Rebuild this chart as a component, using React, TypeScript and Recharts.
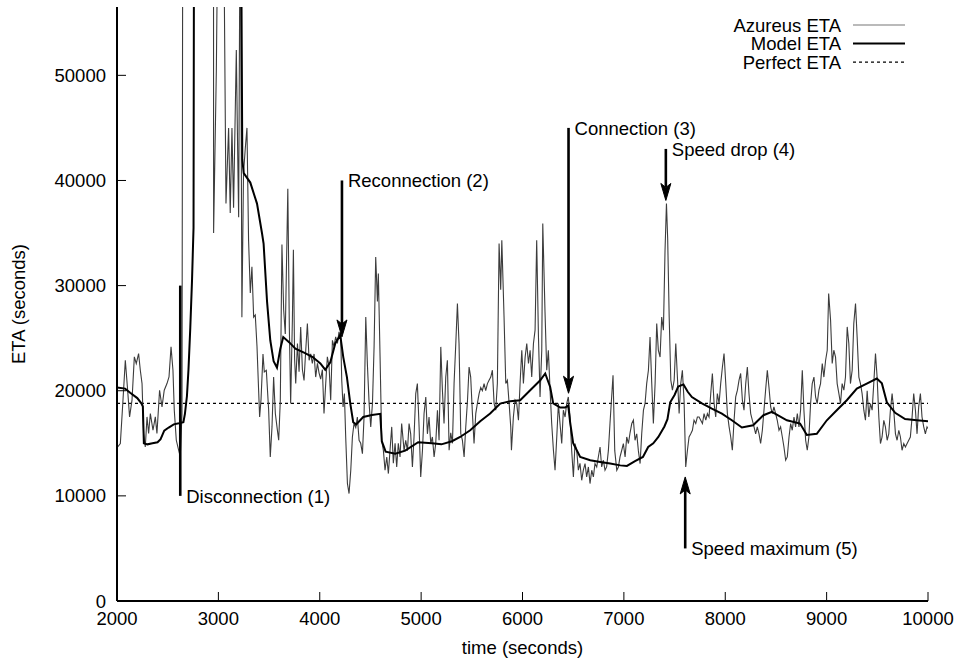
import React from 'react';
import { LineChart, Line, XAxis, YAxis, ReferenceLine, Legend } from 'recharts';

const X_TICKS = [2000, 3000, 4000, 5000, 6000, 7000, 8000, 9000, 10000];
const Y_TICKS = [0, 10000, 20000, 30000, 40000, 50000];
const X_DOMAIN: [number, number] = [2000, 10000];
const Y_DOMAIN: [number, number] = [0, 56500];

const SERIES_NAMES = ['Azureus ETA', 'Model ETA', 'Perfect ETA'];
const X_LABEL = 'time (seconds)';
const Y_LABEL = 'ETA (seconds)';

const PERFECT_ETA = 18800;

// [time, eta] pairs; values above the axis top are clipped spikes
const AZUREUS: [number, number][] = [
  [2000, 15000], [2006, 14650], [2033, 14980], [2059, 19100], [2082, 22900], [2105, 20050], [2124, 17510],
  [2148, 19100], [2171, 23220], [2190, 22590], [2213, 23540], [2230, 21950], [2247, 20680], [2262, 15930],
  [2279, 14650], [2296, 17510], [2312, 15930], [2329, 17830], [2355, 16240], [2378, 17510], [2394, 15930],
  [2420, 20050], [2444, 18460], [2466, 20050], [2493, 20680], [2513, 21310], [2533, 24170], [2552, 21950],
  [2565, 18150], [2585, 15290], [2608, 14340], [2624, 13700], [2641, 17830], [2657, 120000], [2950, 120000],
  [2953, 35000], [2980, 50500], [3010, 80000], [3040, 80000], [3075, 37800], [3101, 45000], [3117, 36900],
  [3134, 45000], [3150, 37400], [3177, 52400], [3190, 43000], [3200, 36500], [3216, 70000], [3232, 27000],
  [3248, 40700], [3265, 43000], [3282, 45000], [3298, 34300], [3315, 29300], [3331, 31800], [3348, 27000],
  [3364, 27200], [3381, 24200], [3397, 20050], [3407, 17500], [3421, 19200], [3440, 23500], [3453, 21800],
  [3473, 21950], [3496, 18150], [3512, 13700], [3529, 16560], [3545, 21300], [3562, 17830], [3578, 16560],
  [3595, 15290], [3611, 19100], [3627, 33900], [3644, 27700], [3660, 25400], [3685, 39200], [3700, 26000],
  [3713, 18780], [3730, 26700], [3740, 33400], [3752, 23000], [3763, 20680], [3780, 24490], [3796, 21800],
  [3812, 26070], [3829, 22000], [3845, 20980], [3862, 23900], [3878, 26390], [3895, 22900], [3911, 23500],
  [3927, 22590], [3944, 23500], [3960, 21300], [3977, 22600], [3993, 21700], [4009, 21100], [4026, 22000],
  [4042, 17830], [4059, 20700], [4075, 23220], [4092, 22300], [4108, 19100], [4125, 24800], [4141, 24200],
  [4157, 25120], [4174, 24500], [4190, 25600], [4207, 25100], [4217, 21000], [4230, 18460], [4243, 19730],
  [4256, 15600], [4273, 11170], [4289, 10220], [4306, 12440], [4322, 15600], [4338, 16880], [4355, 16500],
  [4371, 17500], [4388, 15290], [4404, 15000], [4421, 14020], [4437, 17500], [4454, 27020], [4470, 22500],
  [4487, 18780], [4503, 16560], [4520, 18800], [4536, 24200], [4552, 32730], [4569, 28500], [4578, 31150],
  [4595, 23200], [4611, 15290], [4628, 14300], [4644, 12440], [4661, 13700], [4677, 12120], [4693, 14300],
  [4710, 16560], [4726, 13100], [4743, 15000], [4759, 12750], [4775, 15000], [4792, 13700], [4808, 16880],
  [4832, 14300], [4848, 15290], [4865, 14300], [4881, 16880], [4897, 15900], [4914, 12750], [4930, 15600],
  [4947, 19730], [4963, 20680], [4980, 16560], [4996, 11800], [5013, 14300], [5029, 17830], [5046, 19410],
  [5062, 15900], [5078, 17500], [5095, 14980], [5111, 15600], [5128, 13700], [5144, 14980], [5161, 18150],
  [5177, 15290], [5194, 24170], [5210, 20050], [5226, 16880], [5243, 21300], [5259, 22900], [5276, 14340],
  [5292, 16000], [5309, 15000], [5325, 20680], [5342, 24500], [5358, 28300], [5374, 24500], [5391, 15930],
  [5407, 15300], [5424, 13700], [5440, 16500], [5457, 19000], [5473, 22260], [5489, 21300], [5506, 17830],
  [5522, 14980], [5539, 17830], [5555, 18800], [5572, 19730], [5588, 20300], [5604, 20000], [5621, 20680],
  [5637, 20000], [5654, 20680], [5670, 21000], [5687, 21300], [5703, 21950], [5720, 18780], [5736, 18150],
  [5752, 20680], [5769, 34000], [5785, 29600], [5796, 34320], [5818, 27000], [5835, 20680], [5851, 21000],
  [5868, 18800], [5884, 16560], [5891, 14340], [5910, 17500], [5927, 19100], [5943, 18800], [5960, 17200],
  [5976, 20680], [5993, 23850], [6009, 20680], [6026, 23200], [6042, 24490], [6059, 22600], [6075, 23850],
  [6091, 21300], [6108, 24490], [6124, 25760], [6140, 34320], [6157, 25300], [6173, 19410], [6190, 23850],
  [6200, 35910], [6222, 27500], [6239, 21950], [6255, 23850], [6272, 20050], [6288, 16880], [6305, 14340],
  [6321, 12440], [6338, 15600], [6354, 18780], [6370, 16880], [6387, 14980], [6403, 18150], [6420, 17500],
  [6436, 18780], [6452, 19410], [6469, 17500], [6485, 14340], [6502, 11800], [6518, 14980], [6535, 14300],
  [6551, 12440], [6567, 13100], [6584, 11480], [6600, 12440], [6617, 13070], [6633, 11800], [6650, 12750],
  [6666, 11170], [6683, 12440], [6699, 11800], [6715, 13070], [6732, 12750], [6748, 13700], [6765, 14650],
  [6781, 12750], [6798, 13390], [6814, 12440], [6830, 12750], [6847, 14300], [6863, 16880], [6893, 21470],
  [6910, 14300], [6930, 12440], [6946, 12750], [6962, 13700], [6979, 14340], [6995, 14980], [7012, 13700],
  [7028, 15600], [7045, 14980], [7061, 16000], [7078, 16880], [7094, 17200], [7110, 15290], [7127, 15900],
  [7143, 14300], [7160, 13070], [7176, 15900], [7193, 18150], [7209, 18800], [7225, 20680], [7242, 21950],
  [7258, 25120], [7275, 20680], [7291, 16880], [7308, 20680], [7324, 26390], [7340, 23850], [7357, 23200],
  [7373, 27000], [7390, 25760], [7406, 33370], [7420, 37810], [7432, 34500], [7447, 27000], [7463, 21000],
  [7479, 20050], [7496, 21000], [7512, 24490], [7528, 21300], [7545, 17830], [7561, 20680], [7577, 21950],
  [7594, 19000], [7610, 12750], [7627, 14340], [7643, 15600], [7660, 15900], [7676, 16240], [7692, 17200],
  [7709, 16880], [7725, 17500], [7742, 17500], [7758, 17200], [7775, 16880], [7791, 17830], [7808, 17200],
  [7824, 17830], [7840, 17500], [7857, 19730], [7873, 21640], [7890, 18780], [7906, 17500], [7922, 19730],
  [7939, 18800], [7955, 20680], [7972, 22260], [7988, 23540], [8005, 20680], [8021, 17830], [8038, 16560],
  [8054, 15600], [8070, 14340], [8087, 17190], [8103, 19410], [8120, 20050], [8136, 21000], [8152, 21640],
  [8169, 19100], [8185, 18150], [8202, 20680], [8218, 22260], [8234, 19730], [8251, 17830], [8267, 17200],
  [8284, 16560], [8300, 15900], [8316, 16560], [8333, 15900], [8349, 14980], [8366, 16240], [8382, 18150],
  [8398, 20050], [8415, 21950], [8431, 20360], [8448, 18460], [8464, 17830], [8480, 18460], [8497, 17830],
  [8513, 17190], [8530, 16240], [8546, 16560], [8563, 15600], [8579, 14650], [8596, 13390], [8612, 13700],
  [8629, 15600], [8645, 16880], [8661, 16240], [8678, 17500], [8694, 16560], [8711, 17830], [8727, 16560],
  [8743, 18150], [8760, 21950], [8776, 18150], [8793, 15290], [8809, 14340], [8825, 15600], [8842, 18800],
  [8858, 20680], [8875, 21300], [8891, 19410], [8907, 18780], [8924, 20050], [8940, 20680], [8957, 22590],
  [8973, 21300], [8990, 22900], [9006, 23850], [9020, 29250], [9039, 26700], [9055, 22590], [9071, 23850],
  [9088, 23200], [9104, 20680], [9121, 19730], [9137, 18780], [9153, 20680], [9170, 20050], [9186, 21300],
  [9203, 26070], [9219, 24490], [9235, 20680], [9252, 21950], [9268, 26400], [9285, 28300], [9301, 25120],
  [9318, 21300], [9334, 20680], [9350, 19730], [9367, 18150], [9383, 17190], [9400, 20000], [9416, 17500],
  [9432, 18780], [9449, 18150], [9465, 20680], [9482, 23540], [9498, 21300], [9515, 17500], [9531, 14980],
  [9547, 15600], [9564, 17190], [9580, 16560], [9597, 15290], [9613, 15900], [9629, 18150], [9646, 19730],
  [9662, 18150], [9679, 15900], [9695, 15290], [9712, 16240], [9728, 15600], [9744, 14340], [9761, 14980],
  [9777, 14650], [9794, 14980], [9810, 15290], [9826, 15600], [9843, 17500], [9859, 19730], [9876, 18150],
  [9892, 15900], [9908, 18460], [9925, 19730], [9941, 17500], [9958, 16560], [9974, 15900], [9990, 16560],
  [10000, 16400],
];

const MODEL: [number, number][] = [
  [2000, 20300], [2080, 20200], [2130, 19800], [2200, 19300], [2240, 18800], [2255, 18500], [2265, 15000],
  [2300, 14900], [2350, 15000], [2400, 15100], [2430, 15400], [2466, 16200], [2510, 16500], [2560, 16800],
  [2610, 16900], [2655, 17000], [2670, 17800], [2690, 19500], [2705, 22000], [2723, 26000], [2740, 30500],
  [2755, 35500], [2762, 80000], [3216, 80000], [3236, 42000], [3250, 40700], [3315, 39800], [3381, 37800],
  [3430, 35000], [3446, 34000], [3480, 28500], [3512, 24800], [3545, 22800], [3578, 22200], [3611, 24000],
  [3640, 25100], [3700, 24600], [3760, 24000], [3850, 23600], [3930, 23200], [4006, 22600], [4054, 22000],
  [4104, 22700], [4153, 24500], [4202, 25300], [4232, 23200], [4268, 21300], [4301, 18800], [4330, 17000],
  [4360, 16800], [4429, 17500], [4515, 17700], [4597, 17800], [4612, 15200], [4650, 14200], [4745, 14000],
  [4843, 14300], [4971, 15100], [5106, 15000], [5200, 14900], [5304, 15200], [5385, 15600], [5484, 16240],
  [5583, 17100], [5681, 17830], [5780, 18780], [5879, 19000], [5977, 19100], [6076, 20050], [6175, 21000],
  [6224, 21640], [6273, 20360], [6303, 18800], [6372, 18400], [6421, 18400], [6451, 18600], [6470, 17000],
  [6500, 15000], [6569, 13700], [6668, 13390], [6767, 13230], [6865, 13070], [6964, 12900], [7030, 12850],
  [7110, 13300], [7188, 13700], [7240, 14650], [7290, 15000], [7340, 15600], [7400, 16600], [7430, 17300],
  [7457, 18900], [7500, 19600], [7536, 20400], [7588, 20600], [7630, 19900], [7671, 19400], [7770, 18800],
  [7868, 18300], [7967, 17830], [8065, 17190], [8164, 16500], [8275, 16720], [8377, 17670], [8460, 17990],
  [8608, 17190], [8738, 16880], [8805, 15800], [8903, 15900], [9002, 17190], [9100, 18150], [9199, 19100],
  [9298, 20210], [9396, 20680], [9495, 21160], [9545, 20700], [9594, 18900], [9676, 17900], [9774, 17300],
  [9889, 17190], [10000, 17100],
];

// annotation: label, time, start eta (where the label sits), end eta, arrow head at end
const ANNOTATIONS = [
  { text: 'Disconnection (1)', t: 2624, from: 10000, to: 30000, head: false },
  { text: 'Reconnection (2)', t: 4219, from: 40000, to: 25120, head: true },
  { text: 'Connection (3)', t: 6454, from: 45000, to: 19760, head: true },
  { text: 'Speed drop (4)', t: 7414, from: 43000, to: 38100, head: true },
  { text: 'Speed maximum (5)', t: 7605, from: 5000, to: 11800, head: true },
];

const FONT = "'Liberation Sans', Arial, Helvetica, sans-serif";
const FS = 18.5;

const azureusData = AZUREUS.map(([t, v]) => ({ t, v }));
const modelData = MODEL.map(([t, v]) => ({ t, v }));
const perfectData = [{ t: X_DOMAIN[0], v: PERFECT_ETA }, { t: X_DOMAIN[1], v: PERFECT_ETA }];

const SERIES_STYLE = [
  { stroke: '#3c3c3c', strokeWidth: 1.1, dash: undefined as string | undefined },
  { stroke: '#000000', strokeWidth: 2, dash: undefined as string | undefined },
  { stroke: '#000000', strokeWidth: 1.2, dash: '3 3' },
];

const makeArrow = (a: typeof ANNOTATIONS[number]) => (p: any) => {
  const { x1, y1, x2, y2 } = p;
  const len = Math.hypot(x2 - x1, y2 - y1) || 1;
  const ux = (x2 - x1) / len;
  const uy = (y2 - y1) / len;
  const px = -uy;
  const py = ux;
  const L = 17;
  const W = 5;
  const N = 13;
  const bx = x2 - ux * L;
  const by = y2 - uy * L;
  const nx = x2 - ux * N;
  const ny = y2 - uy * N;
  const ex = a.head ? nx : x2;
  const ey = a.head ? ny : y2;
  return (
    <g>
      <line x1={x1} y1={y1} x2={ex} y2={ey} stroke="#000" strokeWidth={2.6} />
      {a.head && (
        <polygon
          points={`${x2},${y2} ${bx + px * W},${by + py * W} ${nx},${ny} ${bx - px * W},${by - py * W}`}
          fill="#000"
          stroke="#000"
          strokeWidth={1}
        />
      )}
      <text x={x1 + 6} y={y1} dy="0.36em" fontSize={FS} fontFamily={FONT} fill="#000" textAnchor="start">
        {a.text}
      </text>
    </g>
  );
};

const LegendContent = () => (
  <svg
    width={960}
    height={80}
    style={{ position: 'absolute', left: 0, top: 0, overflow: 'visible', pointerEvents: 'none' }}
  >
    {SERIES_NAMES.map((name, i) => {
      const y = 25 + i * 18.6;
      const s = SERIES_STYLE[i];
      return (
        <g key={name}>
          <text x={841} y={y} dy="0.36em" textAnchor="end" fontSize={FS} fontFamily={FONT} fill="#000">
            {name}
          </text>
          <line
            x1={853}
            x2={905}
            y1={y}
            y2={y}
            stroke={i === 0 ? '#777' : s.stroke}
            strokeWidth={s.strokeWidth}
            strokeDasharray={s.dash}
          />
        </g>
      );
    })}
  </svg>
);

const tickStyle = { fontSize: FS, fill: '#000', fontFamily: FONT };

const YLabel = (props: any) => {
  const vb = props.viewBox || { x: 0, y: 7, width: 117, height: 594 };
  const cx = vb.x + 18;
  const cy = vb.y + vb.height / 2;
  return (
    <text
      x={cx}
      y={cy}
      dy="0.36em"
      transform={`rotate(-90, ${cx}, ${cy})`}
      textAnchor="middle"
      fontSize={FS}
      fontFamily={FONT}
      fill="#000"
    >
      {Y_LABEL}
    </text>
  );
};

export default function App() {
  return (
    <div style={{ position: 'absolute', left: 0, top: 0, width: 960, height: 661, fontFamily: FONT, background: '#fff' }}>
      <LineChart width={960} height={661} margin={{ top: 7, right: 32, bottom: 0, left: 0 }}>
        <XAxis
          xAxisId={0}
          dataKey="t"
          type="number"
          domain={X_DOMAIN}
          ticks={X_TICKS}
          interval={0}
          allowDataOverflow
          height={60}
          tickSize={-9}
          tickMargin={20}
          tick={tickStyle}
          tickLine={{ stroke: '#000', strokeWidth: 1 }}
          axisLine={{ stroke: '#000', strokeWidth: 2 }}
          label={{ value: X_LABEL, position: 'insideBottom', offset: 7, fontSize: FS, fill: '#000', fontFamily: FONT }}
        />
        <XAxis
          xAxisId="top"
          orientation="top"
          dataKey="t"
          type="number"
          domain={X_DOMAIN}
          ticks={X_TICKS}
          interval={0}
          allowDataOverflow
          height={0}
          tickSize={-9}
          tickFormatter={() => ''}
          tickLine={{ stroke: '#000', strokeWidth: 1 }}
          axisLine={{ stroke: '#000', strokeWidth: 2 }}
        />
        <YAxis
          yAxisId={0}
          type="number"
          domain={Y_DOMAIN}
          ticks={Y_TICKS}
          interval={0}
          allowDataOverflow
          width={117}
          tickSize={-9}
          tickMargin={20}
          tick={tickStyle}
          tickLine={{ stroke: '#000', strokeWidth: 1 }}
          axisLine={{ stroke: '#000', strokeWidth: 2 }}
          label={{ content: YLabel }}
        />
        <YAxis
          yAxisId="right"
          orientation="right"
          type="number"
          domain={Y_DOMAIN}
          ticks={Y_TICKS}
          interval={0}
          allowDataOverflow
          width={0}
          tickSize={-9}
          tickFormatter={() => ''}
          tickLine={{ stroke: '#000', strokeWidth: 1 }}
          axisLine={{ stroke: '#000', strokeWidth: 2 }}
        />
        <Legend
          verticalAlign="top"
          layout="horizontal"
          wrapperStyle={{ left: 0, top: 0, height: 0 }}
          content={() => <LegendContent />}
        />
        <Line
          data={perfectData}
          dataKey="v"
          name={SERIES_NAMES[2]}
          type="linear"
          dot={false}
          activeDot={false}
          stroke={SERIES_STYLE[2].stroke}
          strokeWidth={SERIES_STYLE[2].strokeWidth}
          strokeDasharray={SERIES_STYLE[2].dash}
          isAnimationActive={false}
        />
        <Line
          data={azureusData}
          dataKey="v"
          name={SERIES_NAMES[0]}
          type="linear"
          dot={false}
          activeDot={false}
          stroke={SERIES_STYLE[0].stroke}
          strokeWidth={SERIES_STYLE[0].strokeWidth}
          isAnimationActive={false}
        />
        <Line
          data={modelData}
          dataKey="v"
          name={SERIES_NAMES[1]}
          type="linear"
          dot={false}
          activeDot={false}
          stroke={SERIES_STYLE[1].stroke}
          strokeWidth={SERIES_STYLE[1].strokeWidth}
          isAnimationActive={false}
        />
        {ANNOTATIONS.map((a) => (
          <ReferenceLine
            key={a.text}
            segment={[{ x: a.t, y: a.from }, { x: a.t, y: a.to }]}
            ifOverflow="visible"
            shape={makeArrow(a)}
          />
        ))}
      </LineChart>
    </div>
  );
}
